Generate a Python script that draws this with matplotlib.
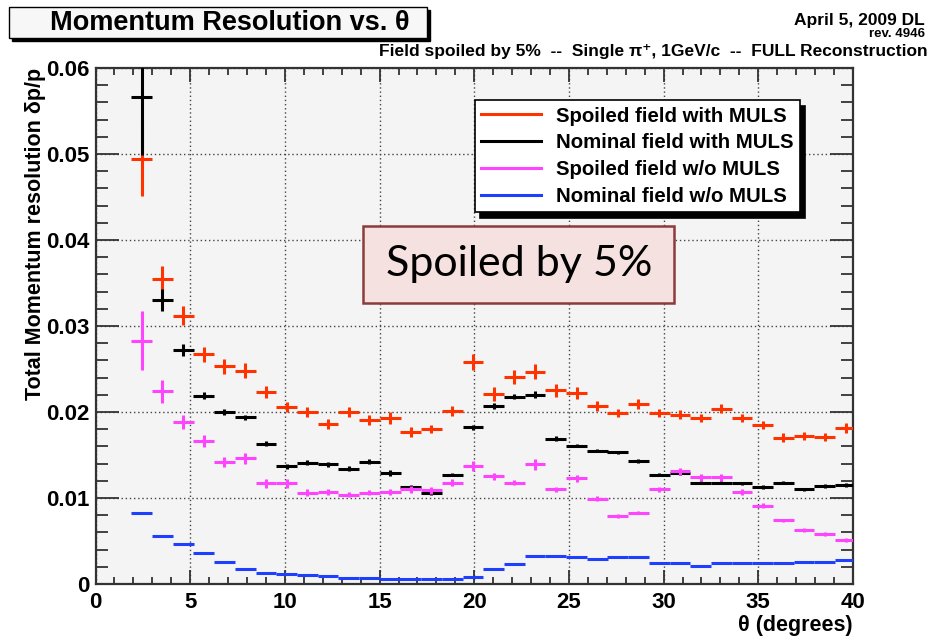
import matplotlib
matplotlib.use("Agg")
import matplotlib.pyplot as plt
from matplotlib.lines import Line2D
from matplotlib.patches import Rectangle
from matplotlib.ticker import MultipleLocator, FuncFormatter

plt.rcParams["font.family"] = ["Liberation Sans", "DejaVu Sans"]
plt.rcParams["font.weight"] = "bold"

# bin centres (degrees) and width
theta = [2.44, 3.53, 4.63, 5.72, 6.81, 7.91, 9.00, 10.09, 11.18, 12.28,
         13.37, 14.46, 15.56, 16.65, 17.74, 18.84, 19.93, 21.02, 22.12, 23.21,
         24.30, 25.40, 26.49, 27.58, 28.67, 29.77, 30.86, 31.95, 33.05, 34.14,
         35.23, 36.33, 37.42, 38.51, 39.61]
bin_width = 1.093

spoiled_muls = [0.0494, 0.0355, 0.0312, 0.0267, 0.0253, 0.0248, 0.0223, 0.0206, 0.0200, 0.0186,
                0.0200, 0.0191, 0.0193, 0.0177, 0.0180, 0.0201, 0.0258, 0.0221, 0.0241, 0.0247,
                0.0225, 0.0222, 0.0207, 0.0199, 0.0209, 0.0199, 0.0197, 0.0193, 0.0204, 0.0193,
                0.0185, 0.0170, 0.0172, 0.0171, 0.0181]
spoiled_muls_err = [0.0043, 0.0015, 0.0011, 0.0009, 0.0009, 0.0009, 0.0007, 0.0006, 0.0006, 0.0006,
                    0.0006, 0.0006, 0.0007, 0.0006, 0.0005, 0.0006, 0.0009, 0.0008, 0.0008, 0.0009,
                    0.0007, 0.0007, 0.0006, 0.0005, 0.0006, 0.0005, 0.0005, 0.0005, 0.0005, 0.0005,
                    0.0005, 0.0005, 0.0005, 0.0005, 0.0006]

nominal_muls = [0.0566, 0.0330, 0.0272, 0.0219, 0.0200, 0.0194, 0.0163, 0.0137, 0.0141, 0.0139,
                0.0134, 0.0142, 0.0129, 0.0113, 0.0106, 0.0127, 0.0182, 0.0207, 0.0218, 0.0220,
                0.0169, 0.0161, 0.0155, 0.0153, 0.0143, 0.0127, 0.0129, 0.0118, 0.0118, 0.0117,
                0.0113, 0.0118, 0.0110, 0.0114, 0.0115]
nominal_muls_err = [0.0067, 0.0013, 0.0007, 0.0004, 0.0003, 0.0003, 0.0003, 0.0003, 0.0003, 0.0003,
                    0.0003, 0.0003, 0.0003, 0.0002, 0.0002, 0.0002, 0.0003, 0.0003, 0.0003, 0.0004,
                    0.0003, 0.0002, 0.0002, 0.0002, 0.0002, 0.0002, 0.0002, 0.0002, 0.0002, 0.0002,
                    0.0002, 0.0002, 0.0002, 0.0002, 0.0002]

spoiled_nomuls = [0.0283, 0.0224, 0.0188, 0.0166, 0.0142, 0.0146, 0.0117, 0.0117, 0.0106, 0.0107,
                  0.0104, 0.0106, 0.0107, 0.0110, 0.0109, 0.0118, 0.0137, 0.0125, 0.0118, 0.0139,
                  0.0110, 0.0123, 0.0099, 0.0079, 0.0083, 0.0110, 0.0131, 0.0124, 0.0124, 0.0107,
                  0.0091, 0.0074, 0.0063, 0.0058, 0.0051]
spoiled_nomuls_err = [0.0034, 0.0013, 0.0008, 0.0007, 0.0006, 0.0006, 0.0005, 0.0005, 0.0004, 0.0004,
                      0.0003, 0.0003, 0.0004, 0.0004, 0.0004, 0.0004, 0.0006, 0.0004, 0.0003, 0.0006,
                      0.0003, 0.0004, 0.0003, 0.0002, 0.0002, 0.0003, 0.0004, 0.0004, 0.0004, 0.0004,
                      0.0003, 0.0002, 0.0002, 0.0002, 0.0002]

nominal_nomuls = [0.0082, 0.0056, 0.0046, 0.0036, 0.0026, 0.0018, 0.0013, 0.0012, 0.0010, 0.0009,
                  0.0007, 0.0007, 0.0006, 0.0006, 0.0006, 0.0006, 0.0008, 0.0018, 0.0023, 0.0032,
                  0.0032, 0.0031, 0.0029, 0.0031, 0.0031, 0.0024, 0.0024, 0.0021, 0.0024, 0.0024,
                  0.0024, 0.0024, 0.0026, 0.0026, 0.0028]
nominal_nomuls_err = [0.0001] * 35

series = [
    ("Spoiled field with MULS", spoiled_muls, spoiled_muls_err, "#ff3300"),
    ("Nominal field with MULS", nominal_muls, nominal_muls_err, "#000000"),
    ("Spoiled field w/o MULS", spoiled_nomuls, spoiled_nomuls_err, "#ff44ff"),
    ("Nominal field w/o MULS", nominal_nomuls, nominal_nomuls_err, "#1f3fff"),
]

FRAME = "#333333"

fig = plt.figure(figsize=(9.3, 6.39), dpi=100)
ax = fig.add_axes([0.1027, 0.0861, 0.8145, 0.8075])
ax.set_facecolor("#f4f4f4")

for label, vals, errs, color in series:
    ax.errorbar(theta, vals, xerr=bin_width / 2, yerr=errs, fmt="none",
                ecolor=color, elinewidth=2.2, capsize=0, zorder=3)

ax.set_xlim(0, 40)
ax.set_ylim(0, 0.06)
ax.xaxis.set_major_locator(MultipleLocator(5))
ax.xaxis.set_minor_locator(MultipleLocator(1))
ax.yaxis.set_major_locator(MultipleLocator(0.01))
ax.yaxis.set_minor_locator(MultipleLocator(0.002))
ax.yaxis.set_major_formatter(FuncFormatter(lambda v, p: "0" if abs(v) < 1e-9 else f"{v:.2f}"))
ax.grid(which="major", color="#444444", linestyle=(0, (1, 2)), linewidth=1.0, zorder=1)
ax.set_axisbelow(True)

ax.tick_params(which="both", direction="in", top=True, right=True, color=FRAME, width=1.3,
               labelsize=16)
ax.tick_params(axis="x", which="major", length=10, pad=6)
ax.tick_params(axis="x", which="minor", length=5)
ax.tick_params(axis="y", which="major", length=16.5, pad=4)
ax.tick_params(axis="y", which="minor", length=8.5)
for sp in ax.spines.values():
    sp.set_color(FRAME)
    sp.set_linewidth(1.6)

ax.set_xlabel("\u03b8 (degrees)", fontsize=15.5, fontweight="bold", loc="right")
ax.xaxis.set_label_coords(1.0, -0.060)
ax.set_ylabel("Total Momentum resolution \u03b4p/p", fontsize=15.5, fontweight="bold", loc="top")
ax.yaxis.set_label_coords(-0.066, 1.0)

# legend
handles = [Line2D([], [], color=c, linewidth=2.2) for _, _, _, c in series]
labels = [s[0] for s in series]
leg = ax.legend(handles, labels, loc="upper left", bbox_to_anchor=(0.5007, 0.938),
                fontsize=14.7, frameon=True, fancybox=False, handlelength=2.9,
                handletextpad=0.75, labelspacing=0.38, borderpad=0.32, borderaxespad=0,
                shadow={"ox": 4, "oy": -4, "color": "black", "alpha": 1})
leg.get_frame().set_edgecolor("black")
leg.get_frame().set_linewidth(1.2)
leg.get_frame().set_facecolor("white")
leg.set_zorder(5)

# "Spoiled by 5%" annotation box
ax.add_patch(Rectangle((14.13, 0.03273), 16.43, 0.00884, facecolor="#f5e1e0",
                       edgecolor="#8b3c3c", linewidth=1.8, zorder=4))
ax.text(22.35, 0.03715, "Spoiled by 5%", fontsize=31, fontweight="normal",
        family=["Lato", "DejaVu Sans"], ha="center", va="center", zorder=5)

# title box with shadow
tb_x, tb_y, tb_w, tb_h = 9 / 930, 1 - 38 / 639, 418 / 930, 31 / 639
fig.patches.append(Rectangle((tb_x + 3 / 930, tb_y - 3 / 639), tb_w, tb_h, transform=fig.transFigure,
                             facecolor="black", edgecolor="black", zorder=1))
fig.patches.append(Rectangle((tb_x, tb_y), tb_w, tb_h, transform=fig.transFigure,
                             facecolor="#f7f7f7", edgecolor="black", linewidth=1.0, zorder=2))
fig.text(230 / 930, 1 - 22.5 / 639, "Momentum Resolution vs. \u03b8", fontsize=19.5,
         fontweight="bold", ha="center", va="center")

fig.text(925 / 930, 1 - 21 / 639, "April 5, 2009 DL", fontsize=12.5, fontweight="bold",
         ha="right", va="center")
fig.text(925 / 930, 1 - 34 / 639, "rev. 4946", fontsize=9.5, fontweight="bold",
         ha="right", va="center")
fig.text(928 / 930, 1 - 56 / 639,
         "Field spoiled by 5%  --  Single \u03c0\u207a, 1GeV/c  --  FULL Reconstruction",
         fontsize=12.5, fontweight="bold", ha="right", va="baseline")

fig.savefig("out.png", dpi=100)
